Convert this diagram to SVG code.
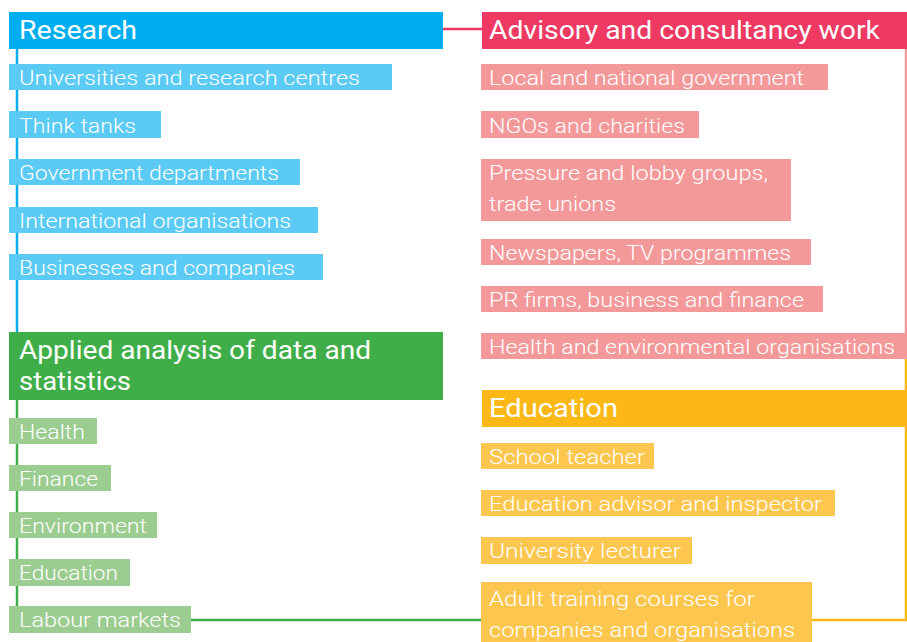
<svg xmlns="http://www.w3.org/2000/svg" width="907" height="642" viewBox="0 0 907 642">
<style>
text{font-family:Roboto,"Liberation Sans",sans-serif;fill:#fff}
.h{font-size:26px;font-weight:400}
.i{font-size:21px;font-weight:300}
.c{fill:none;stroke-width:2.5}
</style>
<rect width="907" height="642" fill="#fff"/>
<g id="connectors">
<line class="c" x1="17" y1="49" x2="17" y2="333" stroke="#00AEEF"/>
<line class="c" x1="17" y1="400" x2="17" y2="607" stroke="#3FAE49"/>
<line class="c" x1="190" y1="620" x2="482" y2="620" stroke="#3FAE49"/>
<line class="c" x1="443" y1="29" x2="482" y2="29" stroke="#EE3A62"/>
<line class="c" x1="906" y1="49" x2="906" y2="345" stroke="#F4999A"/>
<polyline class="c" points="906,345 906,620 812,620" stroke="#FBB817"/>
</g>
<g id="research"><rect x="9" y="12" width="434" height="37" fill="#00AEEF"/><text class="h" x="19" y="39" textLength="118" lengthAdjust="spacingAndGlyphs">Research</text></g>
<g id="r1"><rect x="9" y="64" width="383" height="26" fill="#5BCBF5"/><text class="i" x="19" y="85" textLength="341" lengthAdjust="spacingAndGlyphs">Universities and research centres</text></g>
<g id="r2"><rect x="9" y="111" width="152" height="27" fill="#5BCBF5"/><text class="i" x="19" y="133" textLength="117" lengthAdjust="spacingAndGlyphs">Think tanks</text></g>
<g id="r3"><rect x="9" y="159" width="291" height="26" fill="#5BCBF5"/><text class="i" x="19" y="180" textLength="260" lengthAdjust="spacingAndGlyphs">Government departments</text></g>
<g id="r4"><rect x="9" y="207" width="309" height="26" fill="#5BCBF5"/><text class="i" x="19" y="228" textLength="272" lengthAdjust="spacingAndGlyphs">International organisations</text></g>
<g id="r5"><rect x="9" y="254" width="314" height="26" fill="#5BCBF5"/><text class="i" x="19" y="275" textLength="276" lengthAdjust="spacingAndGlyphs">Businesses and companies</text></g>
<g id="applied"><rect x="9" y="332" width="434" height="68" fill="#3FAE49"/><text class="h" x="19" y="359" textLength="352" lengthAdjust="spacingAndGlyphs">Applied analysis of data and</text><text class="h" x="19" y="390" textLength="112" lengthAdjust="spacingAndGlyphs">statistics</text></g>
<g id="a1"><rect x="9" y="418" width="88" height="26" fill="#9BCD91"/><text class="i" x="19" y="439" textLength="66" lengthAdjust="spacingAndGlyphs">Health</text></g>
<g id="a2"><rect x="9" y="465" width="102" height="26" fill="#9BCD91"/><text class="i" x="19" y="486" textLength="79" lengthAdjust="spacingAndGlyphs">Finance</text></g>
<g id="a3"><rect x="9" y="512" width="148" height="26" fill="#9BCD91"/><text class="i" x="19" y="533" textLength="128" lengthAdjust="spacingAndGlyphs">Environment</text></g>
<g id="a4"><rect x="9" y="559" width="121" height="27" fill="#9BCD91"/><text class="i" x="19" y="580" textLength="99" lengthAdjust="spacingAndGlyphs">Education</text></g>
<g id="a5"><rect x="9" y="606" width="182" height="27" fill="#9BCD91"/><text class="i" x="19" y="627" textLength="162" lengthAdjust="spacingAndGlyphs">Labour markets</text></g>
<g id="advisory"><rect x="482" y="12" width="425" height="37" fill="#EE3A62"/><text class="h" x="489" y="39" textLength="391" lengthAdjust="spacingAndGlyphs">Advisory and consultancy work</text></g>
<g id="v1"><rect x="481" y="64" width="347" height="26" fill="#F4999A"/><text class="i" x="489" y="85" textLength="315" lengthAdjust="spacingAndGlyphs">Local and national government</text></g>
<g id="v2"><rect x="481" y="111" width="218" height="27" fill="#F4999A"/><text class="i" x="489" y="133" textLength="196" lengthAdjust="spacingAndGlyphs">NGOs and charities</text></g>
<g id="v3"><rect x="481" y="159" width="310" height="62" fill="#F4999A"/><text class="i" x="489" y="180" textLength="279" lengthAdjust="spacingAndGlyphs">Pressure and lobby groups,</text><text class="i" x="489" y="211" textLength="127" lengthAdjust="spacingAndGlyphs">trade unions</text></g>
<g id="v4"><rect x="481" y="239" width="330" height="26" fill="#F4999A"/><text class="i" x="489" y="260" textLength="302" lengthAdjust="spacingAndGlyphs">Newspapers, TV programmes</text></g>
<g id="v5"><rect x="481" y="286" width="342" height="26" fill="#F4999A"/><text class="i" x="489" y="307" textLength="315" lengthAdjust="spacingAndGlyphs">PR firms, business and finance</text></g>
<g id="v6"><rect x="481" y="333" width="426" height="26" fill="#F4999A"/><text class="i" x="489" y="354" textLength="406" lengthAdjust="spacingAndGlyphs">Health and environmental organisations</text></g>
<g id="education"><rect x="482" y="390" width="425" height="37" fill="#FBB817"/><text class="h" x="489" y="417" textLength="129" lengthAdjust="spacingAndGlyphs">Education</text></g>
<g id="e1"><rect x="481" y="443" width="173" height="26" fill="#FDC64E"/><text class="i" x="489" y="464" textLength="156" lengthAdjust="spacingAndGlyphs">School teacher</text></g>
<g id="e2"><rect x="481" y="490" width="354" height="26" fill="#FDC64E"/><text class="i" x="489" y="511" textLength="333" lengthAdjust="spacingAndGlyphs">Education advisor and inspector</text></g>
<g id="e3"><rect x="481" y="537" width="211" height="27" fill="#FDC64E"/><text class="i" x="489" y="558" textLength="192" lengthAdjust="spacingAndGlyphs">University lecturer</text></g>
<g id="e4"><rect x="481" y="582" width="331" height="60" fill="#FDC64E"/><text class="i" x="489" y="606" textLength="266" lengthAdjust="spacingAndGlyphs">Adult training courses for</text><text class="i" x="489" y="637" textLength="306" lengthAdjust="spacingAndGlyphs">companies and organisations</text></g>
</svg>
